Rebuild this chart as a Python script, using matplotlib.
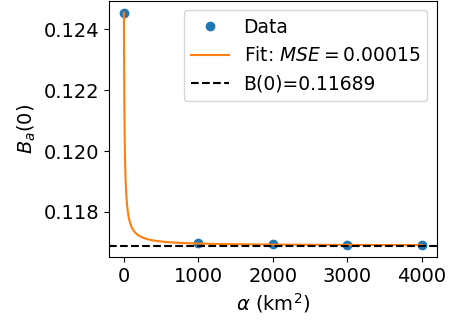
import numpy as np
import matplotlib.pyplot as plt

# dados medidos
alpha = [0, 1000, 2000, 3000, 4000]
b_a0 = [0.12455, 0.11696, 0.11693, 0.11690, 0.11690]

# parametros do ajuste: B(alpha) = b0 + amp / (1 + alpha / k)
b0 = 0.11689
amp = 0.00766
k = 9.0
mse = 0.00015

alpha_fit = np.linspace(0, 4000, 4001)
b_fit = b0 + amp / (1 + alpha_fit / k)

fig, ax = plt.subplots(figsize=(4.56, 3.22), dpi=100)
fig.subplots_adjust(left=0.239, right=0.958, top=0.997, bottom=0.202)

ax.plot(alpha, b_a0, 'o', color='C0', markersize=6, label='Data')
ax.plot(alpha_fit, b_fit, color='C1', label='Fit: $MSE = %.5f$' % mse)
ax.axhline(b0, color='k', linestyle='--', label='B(0)=%.5f' % b0)

ax.set_xlabel(r'$\alpha$ (km$^2$)', fontsize=14)
ax.set_ylabel(r'$B_a(0)$', fontsize=14)
ax.tick_params(labelsize=14)
ax.set_yticks([0.118, 0.120, 0.122, 0.124])
ax.legend(fontsize=13.5)

plt.savefig('out.png', dpi=100)
